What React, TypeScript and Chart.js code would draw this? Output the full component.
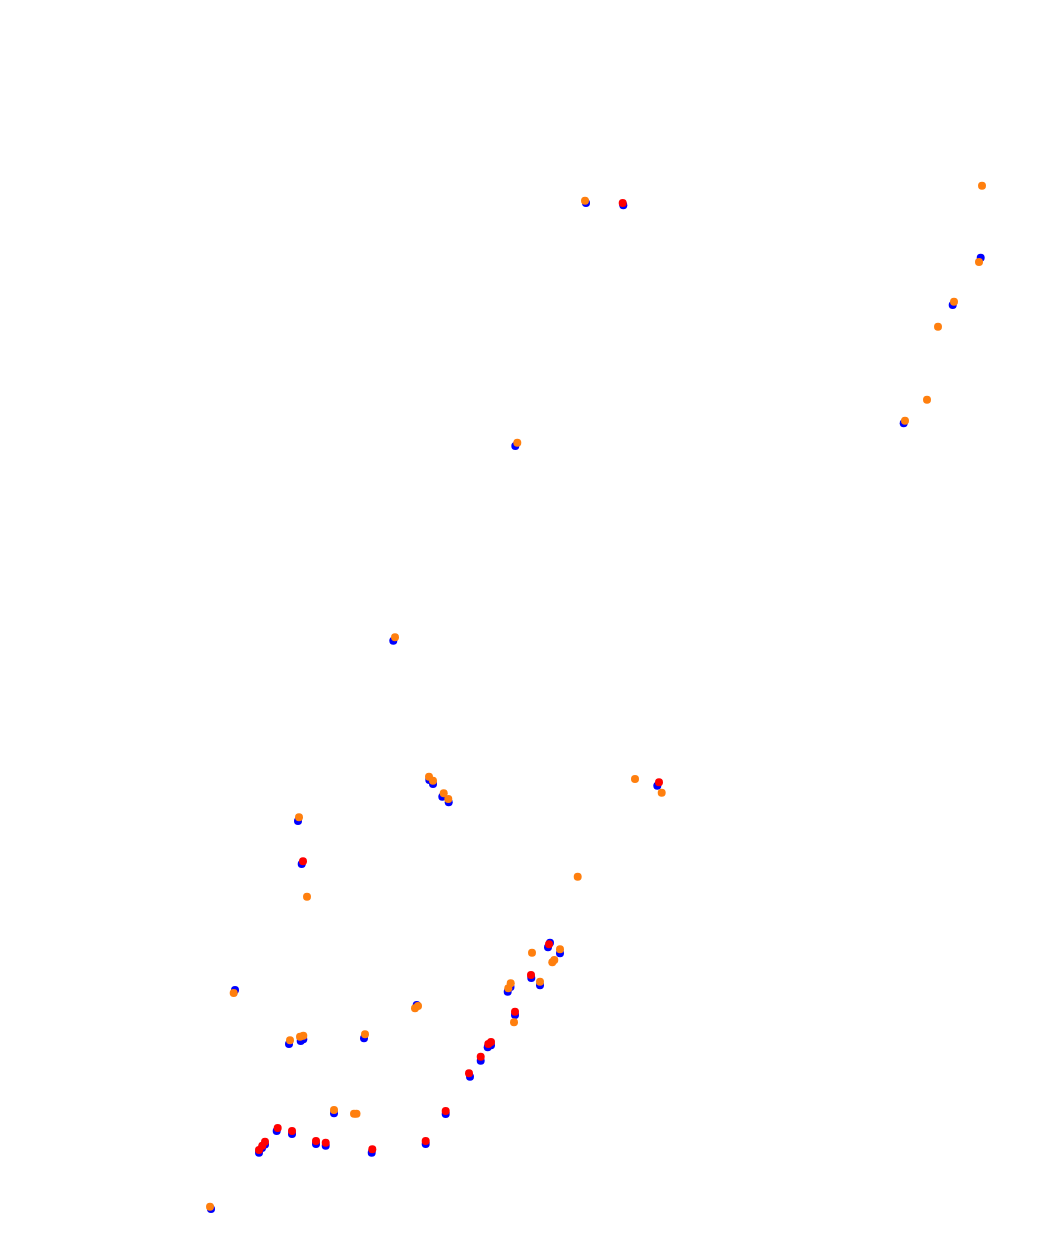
import React, { useEffect, useRef } from "react";
import { Chart, registerables } from "chart.js";

Chart.register(...registerables);

const blueX = [586, 623.3, 980.7, 952.7, 903.7, 515.3, 393.3, 429.3, 433, 442.3, 448.7, 657.3, 298, 301.7, 548, 550, 560, 531.3, 540, 507.7, 510.5, 235, 416.7, 515, 289, 300.7, 303.3, 364, 487.7, 491, 480.7, 470, 334, 445.7, 276.7, 292, 265, 262, 259, 316, 325.7, 371.7, 425.7, 211];
const blueY = [203, 205.3, 257.7, 305, 423.3, 446, 640.7, 780, 784, 796.7, 802.3, 785.7, 821, 864, 947.3, 942.7, 953.3, 978, 985.3, 991.7, 987, 990, 1005, 1015, 1044, 1041, 1039.3, 1038.3, 1047.3, 1045.3, 1060.7, 1076.7, 1113.3, 1114, 1131, 1134, 1144.5, 1148, 1152.7, 1144, 1145.7, 1152.7, 1144, 1209];

const redX = [622.7, 659, 303, 549, 531, 515, 488.3, 491, 480.7, 469, 445.7, 277.7, 292, 265, 262.3, 259, 316, 325.7, 372.3, 425.7];
const redY = [203, 782.3, 861.3, 944.3, 975, 1011.7, 1044, 1042, 1056.7, 1073.3, 1111, 1128, 1131, 1141.7, 1145.7, 1150, 1141, 1142.7, 1149.3, 1141];

const orangeX = [585, 982, 979, 954, 938, 927, 905, 517.3, 395, 429, 433, 443.7, 448.3, 635, 661.7, 299, 307, 577.7, 560, 532, 552.3, 554.3, 540, 510.7, 508.3, 233.7, 415, 418, 514, 290, 300, 303.3, 365, 334, 354, 356.5, 210];
const orangeY = [200.7, 185.7, 262, 301.7, 326.7, 399.7, 420.7, 442.7, 637.3, 776.7, 780.7, 793.3, 799, 779, 792.7, 817.3, 896.7, 876.7, 949.3, 952.7, 962.3, 960, 981.7, 983.3, 988.3, 993, 1008.3, 1006, 1022.3, 1040.3, 1036.7, 1035.7, 1034.3, 1110, 1113.7, 1113.7, 1206.7];

const toPoints = (xs: number[], ys: number[]) => xs.map((x, i) => ({ x, y: ys[i] }));

export default function App() {
  const ref = useRef<HTMLCanvasElement | null>(null);
  useEffect(() => {
    if (!ref.current) return;
    const mk = (label: string, xs: number[], ys: number[], color: string, order: number) => ({
      label,
      data: toPoints(xs, ys),
      backgroundColor: color,
      borderColor: color,
      pointRadius: 4,
      pointBorderWidth: 0,
      pointHoverRadius: 4,
      order,
    });
    const chart = new Chart(ref.current, {
      type: "scatter",
      data: {
        datasets: [
          mk("blue", blueX, blueY, "#0000ff", 3),
          mk("red", redX, redY, "#ff0000", 2),
          mk("orange", orangeX, orangeY, "#ff7f0e", 1),
        ],
      },
      options: {
        animation: false,
        responsive: false,
        maintainAspectRatio: false,
        layout: { padding: 0, autoPadding: false },
        plugins: { legend: { display: false }, tooltip: { enabled: false } },
        scales: {
          x: { type: "linear", min: 0, max: 1042, display: false },
          y: { type: "linear", min: 0, max: 1242, reverse: true, display: false },
        },
      },
    });
    return () => chart.destroy();
  }, []);
  return (
    <div style={{ position: "absolute", left: 0, top: 0, width: 1042, height: 1242, background: "#fff" }}>
      <canvas ref={ref} width={1042} height={1242} style={{ display: "block", width: 1042, height: 1242 }} />
    </div>
  );
}
